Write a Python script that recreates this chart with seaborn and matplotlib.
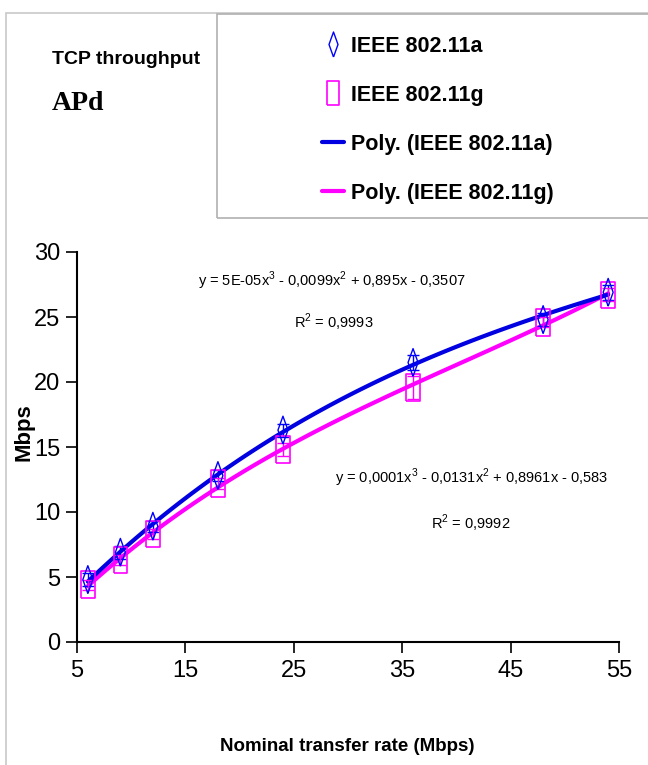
import matplotlib
matplotlib.use("Agg")
import matplotlib.pyplot as plt
from matplotlib.lines import Line2D
from matplotlib.patches import Rectangle
import seaborn as sns
import pandas as pd

# ---- data ----
rates = [6, 9, 12, 18, 24, 36, 48, 54]
tput_a = [4.8, 6.9, 8.9, 12.8, 16.3, 21.5, 24.8, 26.9]
tput_g = [4.4, 6.3, 8.3, 12.2, 14.8, 19.6, 24.6, 26.7]
err_a = [0.5, 0.5, 0.4, 0.4, 0.5, 0.6, 0.5, 0.6]
err_g = [0.4, 0.4, 0.4, 0.4, 0.5, 0.9, 0.4, 0.5]
x_ticks = [5, 15, 25, 35, 45, 55]
y_ticks = [0, 5, 10, 15, 20, 25, 30]
eq_a = "y = 5E-05x$^3$ - 0,0099x$^2$ + 0,895x - 0,3507"
r2_a = "R$^2$ = 0,9993"
eq_g = "y = 0,0001x$^3$ - 0,0131x$^2$ + 0,8961x - 0,583"
r2_g = "R$^2$ = 0,9992"
labels = ["IEEE 802.11a", "IEEE 802.11g", "Poly. (IEEE 802.11a)", "Poly. (IEEE 802.11g)"]

BLUE = "#0000ff"
BLUE_LINE = "#0000e0"
MAG = "#ff00ff"

sns.set_theme(style="white")
SANS = ["Liberation Sans", "DejaVu Sans"]
plt.rcParams["font.family"] = SANS
plt.rcParams["mathtext.fontset"] = "custom"
plt.rcParams["mathtext.rm"] = "Liberation Sans"
plt.rcParams["text.color"] = "black"
plt.rcParams["xtick.color"] = "black"
plt.rcParams["ytick.color"] = "black"
plt.rcParams["axes.labelcolor"] = "black"

# tall (stretched) marker shapes, as in the reference
DIAMOND = [(0, -1), (0.36, 0), (0, 1), (-0.36, 0), (0, -1)]
RECT = [(-0.5, -1), (0.5, -1), (0.5, 1), (-0.5, 1), (-0.5, -1)]

df = pd.DataFrame({"rate": rates, "a": tput_a, "g": tput_g})

W, H = 648, 765
fig = plt.figure(figsize=(W / 100, H / 100), dpi=100)
ax = fig.add_axes([77 / W, 1 - 642 / H, (619 - 77) / W, (642 - 252) / H])

# polynomial trendlines (order 3) fitted by seaborn
sns.regplot(data=df, x="rate", y="a", order=3, ci=None, scatter=False, truncate=True,
            ax=ax, line_kws=dict(color=BLUE_LINE, lw=3, zorder=3))
sns.regplot(data=df, x="rate", y="g", order=3, ci=None, scatter=False, truncate=True,
            ax=ax, line_kws=dict(color=MAG, lw=3, zorder=2))

# error bars
ax.errorbar(rates, tput_a, yerr=err_a, fmt="none", ecolor=BLUE, elinewidth=1, capsize=4, zorder=4)
ax.errorbar(rates, tput_g, yerr=err_g, fmt="none", ecolor=MAG, elinewidth=1, capsize=4, zorder=4)

# markers
sns.scatterplot(data=df, x="rate", y="a", marker=DIAMOND, s=400, facecolor="none",
                edgecolor=BLUE, linewidth=1.0, ax=ax, zorder=5)
sns.scatterplot(data=df, x="rate", y="g", marker=RECT, s=370, facecolor="none",
                edgecolor=MAG, linewidth=1.2, ax=ax, zorder=4)

ax.set_xlim(5, 55)
ax.set_ylim(0, 30)
ax.set_xticks(x_ticks)
ax.set_yticks(y_ticks)
ax.tick_params(axis="both", direction="out", length=8, width=1.2, color="black",
               labelsize=17, bottom=True, left=True)
ax.tick_params(axis="x", pad=5)
ax.tick_params(axis="y", pad=4)
for s in ["top", "right"]:
    ax.spines[s].set_visible(False)
for s in ["left", "bottom"]:
    ax.spines[s].set_color("black")
    ax.spines[s].set_linewidth(1.5)
ax.set_xlabel("Nominal transfer rate (Mbps)", fontsize=13.5, fontweight="bold")
ax.xaxis.set_label_coords(0.498, -0.245)
ax.set_ylabel("Mbps", fontsize=16, fontweight="bold", va="center")
ax.yaxis.set_label_coords(-0.098, 0.538)

# equations
ax.text(28.5, 27.8, eq_a, fontsize=10.5, ha="center", va="center")
ax.text(28.7, 24.6, r2_a, fontsize=10.5, ha="center", va="center")
ax.text(41.4, 12.6, eq_g, fontsize=10.5, ha="center", va="center")
ax.text(41.3, 9.15, r2_g, fontsize=10.5, ha="center", va="center")

# outer chart border (left and top) and legend frame
fig.patches.append(Rectangle((6 / W, -0.1), 1.2, 1 - 13 / H + 0.1, transform=fig.transFigure,
                             fill=False, edgecolor="#c8c8c8", lw=1.2))
fig.patches.append(Rectangle((217 / W, 1 - 218 / H), 1.0, (218 - 14) / H, transform=fig.transFigure,
                             fill=False, edgecolor="#b0b0b0", lw=1.2))

fig.text(52 / W, 1 - 60 / H, "TCP throughput", fontsize=14, fontweight="bold",
         ha="left", va="center")
fig.text(52 / W, 1 - 104 / H, "APd", fontsize=20, fontweight="bold",
         family=["Liberation Serif", "DejaVu Serif"], ha="left", va="center")

handles = [
    Line2D([], [], marker=DIAMOND, ls="none", markersize=18, markerfacecolor="none",
           markeredgecolor=BLUE, markeredgewidth=1.0),
    Line2D([], [], marker=RECT, ls="none", markersize=17, markerfacecolor="none",
           markeredgecolor=MAG, markeredgewidth=1.2),
    Line2D([], [], color=BLUE_LINE, lw=3),
    Line2D([], [], color=MAG, lw=3),
]
leg = fig.legend(handles, labels, loc="upper left", bbox_to_anchor=(322 / W, 1 - 36 / H),
                 frameon=False, handlelength=1.0, handletextpad=0.35, labelspacing=1.3,
                 prop=dict(weight="bold", size=15.5), borderaxespad=0, borderpad=0)

fig.savefig("out.png", dpi=100)
